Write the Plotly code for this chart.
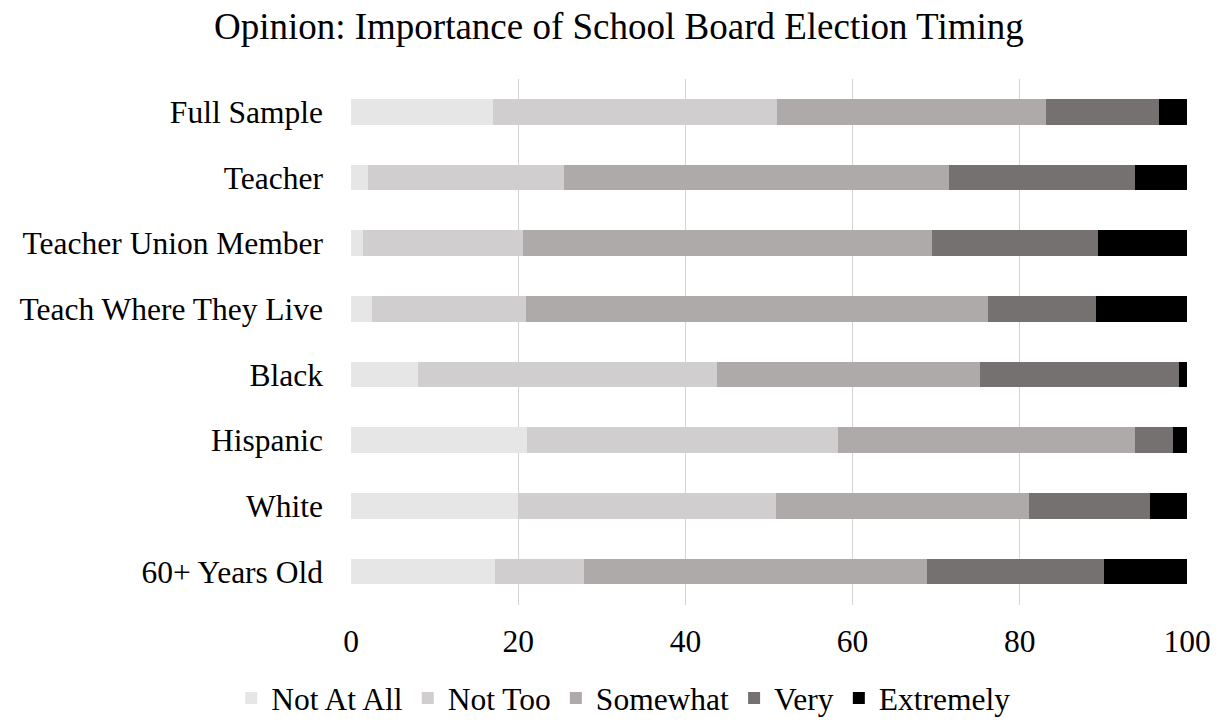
import plotly.graph_objects as go

# Respondent groups, listed top to bottom
groups = [
    "Full Sample",
    "Teacher",
    "Teacher Union Member",
    "Teach Where They Live",
    "Black",
    "Hispanic",
    "White",
    "60+ Years Old",
]

# Share of each group (percent) giving each answer
not_at_all = [17.0, 2.0, 1.4, 2.5, 8.0, 21.1, 20.0, 17.2]
not_too = [33.9, 23.5, 19.2, 18.4, 35.8, 37.1, 30.8, 10.7]
somewhat = [32.2, 46.0, 48.9, 55.3, 31.4, 35.6, 30.3, 41.0]
very = [13.5, 22.3, 19.9, 12.9, 23.8, 4.5, 14.5, 21.2]
extremely = [3.4, 6.2, 10.6, 10.9, 1.0, 1.7, 4.4, 9.9]

x_ticks = [0, 20, 40, 60, 80, 100]

series = [
    ("Not At All", not_at_all, "#e7e6e6"),
    ("Not Too", not_too, "#d0cece"),
    ("Somewhat", somewhat, "#aeaaaa"),
    ("Very", very, "#767171"),
    ("Extremely", extremely, "#000000"),
]

FONT = "Liberation Serif, Times New Roman, serif"

fig = go.Figure()
for name, values, color in series:
    fig.add_trace(
        go.Bar(
            y=groups,
            x=values,
            name=name,
            orientation="h",
            marker=dict(color=color, line=dict(width=0)),
        )
    )

fig.update_layout(
    width=1223,
    height=725,
    barmode="stack",
    bargap=0.61,
    paper_bgcolor="white",
    plot_bgcolor="white",
    font=dict(family=FONT, size=31.5, color="#000000"),
    margin=dict(l=351, r=34, t=79, b=113),
    title=dict(
        text="Opinion: Importance of School Board Election Timing",
        font=dict(family=FONT, size=37, color="#000000"),
        x=0.506,
        xref="container",
        xanchor="center",
        y=0.964,
        yref="container",
        yanchor="middle",
    ),
    legend=dict(
        orientation="h",
        xref="container",
        x=0.51,
        xanchor="center",
        yref="container",
        y=0.0,
        yanchor="bottom",
        traceorder="normal",
        itemwidth=30,
        tracegroupgap=0,
        font=dict(family=FONT, size=31.5, color="#000000"),
    ),
    showlegend=True,
)

fig.update_xaxes(
    range=[0, 100],
    tickvals=x_ticks,
    ticktext=[str(v) for v in x_ticks],
    showgrid=True,
    gridcolor="#d4d4d4",
    gridwidth=1,
    zeroline=False,
    showline=False,
    ticks="",
    ticklabelstandoff=15,
)

fig.update_yaxes(
    autorange="reversed",
    showgrid=False,
    zeroline=False,
    showline=False,
    ticks="",
    ticklabelstandoff=27,
)

fig.write_html("out.html")
